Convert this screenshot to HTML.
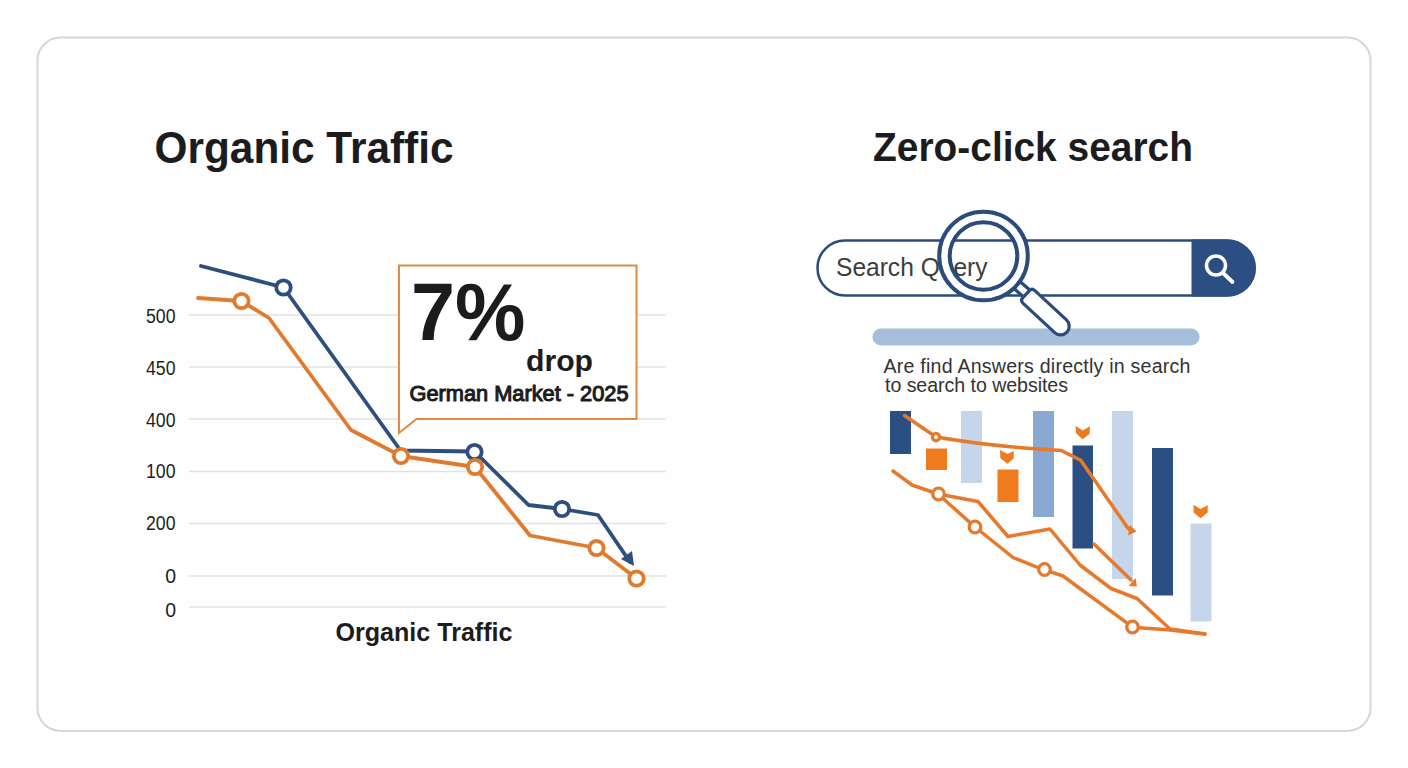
<!DOCTYPE html>
<html><head><meta charset="utf-8">
<style>
html,body{margin:0;padding:0;background:#ffffff;width:1408px;height:768px;overflow:hidden;}
svg{display:block;font-family:"Liberation Sans",sans-serif;}
</style></head>
<body>
<svg width="1408" height="768" viewBox="0 0 1408 768">
<!-- card -->
<rect x="37.5" y="37.5" width="1333" height="693.5" rx="23" ry="23" fill="#fefefe" stroke="#d6d6d6" stroke-width="2"/>

<!-- titles -->
<text x="154.5" y="162.5" font-size="43.5" font-weight="bold" fill="#1c1c1e" textLength="299" lengthAdjust="spacingAndGlyphs">Organic Traffic</text>
<text x="873" y="160.5" font-size="41" font-weight="bold" fill="#1c1c1e" textLength="320" lengthAdjust="spacingAndGlyphs">Zero-click search</text>

<!-- left chart gridlines -->
<g stroke="#e2e2e2" stroke-width="1.5">
<line x1="189" y1="315" x2="666" y2="315"/>
<line x1="189" y1="367" x2="666" y2="367"/>
<line x1="189" y1="419" x2="666" y2="419"/>
<line x1="189" y1="471.5" x2="666" y2="471.5"/>
<line x1="189" y1="523.5" x2="666" y2="523.5"/>
<line x1="189" y1="576" x2="666" y2="576"/>
<line x1="189" y1="607" x2="666" y2="607"/>
</g>
<g font-size="19.5" fill="#1e1e1e" text-anchor="end">
<text x="175.5" y="322.5" textLength="29.5" lengthAdjust="spacingAndGlyphs">500</text>
<text x="175.5" y="374.5" textLength="29.5" lengthAdjust="spacingAndGlyphs">450</text>
<text x="175.5" y="426.5" textLength="29.5" lengthAdjust="spacingAndGlyphs">400</text>
<text x="175.5" y="478" textLength="29.5" lengthAdjust="spacingAndGlyphs">100</text>
<text x="175.5" y="530" textLength="29.5" lengthAdjust="spacingAndGlyphs">200</text>
<text x="176" y="582.5">0</text>
<text x="176" y="617.3">0</text>
</g>

<!-- callout -->
<path d="M399,265.5 L636.5,265.5 L636.5,419 L416.5,419 L399,433 Z" fill="#ffffff" stroke="#e08a45" stroke-width="2"/>
<text x="411" y="340" font-size="81" font-weight="bold" fill="#1c1c1e" textLength="114.5" lengthAdjust="spacingAndGlyphs">7%</text>
<text x="526" y="371" font-size="30" font-weight="bold" fill="#1c1c1e" textLength="67" lengthAdjust="spacingAndGlyphs">drop</text>
<text x="409.5" y="400.7" font-size="22.3" fill="#1c1c1e" stroke="#1c1c1e" stroke-width="1.1" textLength="219" lengthAdjust="spacingAndGlyphs">German Market - 2025</text>

<!-- left chart lines -->
<g fill="none" stroke-width="3.8" stroke-linejoin="round" stroke-linecap="round">
<polyline stroke="#2e4e7d" points="201,266 283.5,287.5 400.5,450.5 474.5,451.5 528.5,505 562,509 598,515 630,562"/>
<polyline stroke="#e07b2e" points="198,298 241.5,301 269,318 351,430 401,456 475,467 530,535.5 596.5,548 636.5,578.5"/>
</g>
<!-- arrow head blue -->
<path d="M621,559 L634,566 L632,551 Z" fill="#2e4e7d"/>
<g fill="#ffffff" stroke-width="3.8">
<circle cx="283.5" cy="287.5" r="7.2" stroke="#2e4e7d"/>
<circle cx="474.5" cy="452" r="7.2" stroke="#2e4e7d"/>
<circle cx="562" cy="509" r="7.2" stroke="#2e4e7d"/>
<circle cx="241.5" cy="301" r="7.2" stroke="#e07b2e"/>
<circle cx="401" cy="456" r="7.2" stroke="#e07b2e"/>
<circle cx="475" cy="467" r="7.2" stroke="#e07b2e"/>
<circle cx="596.5" cy="548" r="7.2" stroke="#e07b2e"/>
<circle cx="636.5" cy="578.5" r="7.2" stroke="#e07b2e"/>
</g>
<text x="335.5" y="640.5" font-size="25.3" font-weight="bold" fill="#1c1c1e" textLength="177" lengthAdjust="spacingAndGlyphs">Organic Traffic</text>

<!-- search bar -->
<rect x="817.5" y="240.5" width="437" height="55" rx="27.5" ry="27.5" fill="#ffffff" stroke="#2b4c7a" stroke-width="2.5"/>
<path d="M1191.5,239.5 L1227.5,239.5 A28.5,28.5 0 0 1 1227.5,296.5 L1191.5,296.5 Z" fill="#2b4f82"/>
<circle cx="1216" cy="265.5" r="9.5" fill="none" stroke="#ffffff" stroke-width="3.5"/>
<line x1="1223" y1="273" x2="1232.5" y2="282" stroke="#ffffff" stroke-width="3.8" stroke-linecap="round"/>
<text x="836" y="276" font-size="25.8" fill="#3d3d3d" textLength="151.5" lengthAdjust="spacingAndGlyphs">Search Query</text>

<!-- light bar -->
<rect x="872.5" y="328.5" width="327" height="17" rx="8.5" fill="#a6bddb"/>

<!-- magnifier -->
<g>
<path d="M1010,279 L1028,294.5" stroke="#2b4c7a" stroke-width="12.5"/>
<path d="M1010,279 L1029,295.4" stroke="#ffffff" stroke-width="6"/>
<circle cx="983.5" cy="256" r="39.05" fill="none" stroke="#2b4c7a" stroke-width="14.5"/>
<circle cx="983.5" cy="256" r="39.05" fill="none" stroke="#ffffff" stroke-width="6.5"/>
<g transform="translate(1026.05,294.25) rotate(42.8)">
<path d="M4,-8.65 L47.06,-8.65 A8.65,8.65 0 0 1 47.06,8.65 L4,8.65 Q0,8.65 0,4.65 L0,-4.65 Q0,-8.65 4,-8.65 Z" fill="#ffffff" stroke="#2b4c7a" stroke-width="3.2" stroke-linejoin="round"/>
</g>
</g>

<text x="883.5" y="372.7" font-size="19.6" fill="#333333" textLength="307" lengthAdjust="spacing">Are find Answers directly in search</text>
<text x="885" y="392.2" font-size="19.6" fill="#333333" textLength="183" lengthAdjust="spacing">to search to websites</text>

<!-- right chart bars -->
<rect x="890" y="411" width="21" height="43" fill="#2b4f82"/>
<rect x="926" y="448.5" width="21" height="21.5" fill="#f07a1e"/>
<rect x="961" y="411" width="21" height="72" fill="#c6d6ea"/>
<rect x="997.5" y="469.5" width="21" height="32.5" fill="#f07a1e"/>
<rect x="1033" y="411" width="21" height="106" fill="#8aa9d0"/>
<rect x="1072.5" y="445.5" width="20.5" height="103" fill="#2b4f82"/>
<rect x="1112" y="411" width="21" height="168" fill="#c6d6ea"/>
<rect x="1152" y="448" width="21" height="147.5" fill="#2b4f82"/>
<rect x="1190.5" y="523.5" width="21" height="98" fill="#c6d6ea"/>

<!-- chevrons -->
<g fill="#f07a1e">
<path d="M1000,450 L1007.4,454.1 L1013.7,451 L1013.7,458.6 L1007.4,463.8 L1000.4,458.3 Z"/>
<path d="M1075.4,425.8 L1082.7,430.4 L1090,426.3 L1089.5,434 L1082.5,439.2 L1076.2,433.6 Z"/>
<path d="M1193.5,504.7 L1200.5,509 L1207.7,505.2 L1207.7,512.6 L1200.5,518.3 L1193.7,512.6 Z"/>
</g>

<!-- right chart lines -->
<g fill="none" stroke="#e57a2c" stroke-width="3.5" stroke-linejoin="round" stroke-linecap="round">
<path d="M904.5,415.5 L936,437 Q988,446 1040,449 L1061,450.4 L1080.7,460.2 L1125,524 Q1128,529 1131,530"/>
<polyline points="893,471 912,485 938,494 978,501.5 1008,536.5 1050,529 1080,565 1111,588.5 1137,598.5 1170,629 1205,634"/>
<polyline points="938,494 975,527 1013,557.5 1035,566.4 1044,569.7 1063,576 1133,627.3 1170,630 1205,634"/>
<path d="M1094,544 L1131,580"/>
</g>
<g fill="#e57a2c">
<path d="M1128,535.5 L1136.5,531.5 L1130,525 Z"/>
<path d="M1128.5,586 L1137,586.5 L1135.5,578 Z"/>
</g>
<g fill="#ffffff" stroke="#e57a2c" stroke-width="3.3">
<circle cx="936" cy="437" r="3.6"/>
<circle cx="938.5" cy="494" r="5.8"/>
<circle cx="975" cy="527" r="5.8"/>
<circle cx="1044.5" cy="569.5" r="5.8"/>
<circle cx="1132.5" cy="627" r="5.8"/>
</g>
</svg>
</body></html>
